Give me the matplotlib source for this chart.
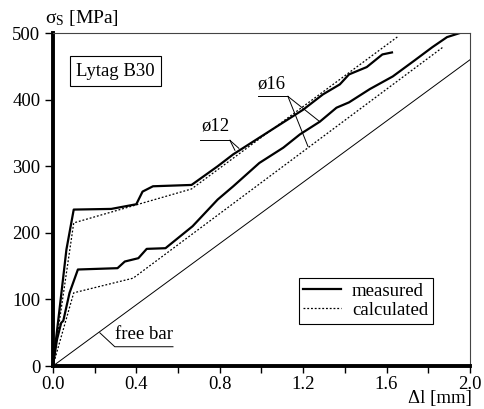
import numpy as np
import matplotlib
matplotlib.use("Agg")
import matplotlib.pyplot as plt
from matplotlib.ticker import MultipleLocator

plt.rcParams['font.family'] = ['Liberation Serif', 'DejaVu Serif']
plt.rcParams['mathtext.fontset'] = 'custom'
plt.rcParams['mathtext.rm'] = 'Liberation Serif'
plt.rcParams['mathtext.it'] = 'Liberation Serif:italic'

# measured / calculated curves (Δl in mm, σs in MPa)
d12_meas_x = [0.0, 0.03, 0.065, 0.10, 0.28, 0.40, 0.43, 0.48, 0.665, 0.79, 0.865, 0.99,
              1.105, 1.20, 1.295, 1.376, 1.42, 1.505, 1.58, 1.626]
d12_meas_y = [0, 80, 175, 235, 236, 243, 262, 270, 272, 300, 318, 343,
              366, 385, 408, 423, 438, 449, 468, 471]
d12_calc_x = [0.0, 0.10, 0.665, 1.655]
d12_calc_y = [0, 215, 266, 495]

d16_meas_x = [0.0, 0.02, 0.04, 0.05, 0.08, 0.12, 0.31, 0.345, 0.41, 0.45, 0.54, 0.67, 0.79,
              0.865, 0.99, 1.105, 1.185, 1.28, 1.36, 1.42, 1.52, 1.63, 1.73, 1.82, 1.89, 1.98]
d16_meas_y = [0, 40, 65, 68, 110, 145, 147, 157, 162, 176, 177, 210, 250,
              270, 305, 328, 348, 367, 388, 396, 416, 435, 458, 479, 494, 503]
d16_calc_x = [0.0, 0.10, 0.385, 1.875]
d16_calc_y = [0, 110, 132, 480]

free_x = [0.0, 2.0]
free_y = [0, 460]

fig = plt.figure(figsize=(4.85, 4.09), dpi=100)
ax = fig.add_axes([0.109, 0.105, 0.860, 0.814])

ax.plot(d12_meas_x, d12_meas_y, color='black', lw=1.6, label='measured')
ax.plot(d16_meas_x, d16_meas_y, color='black', lw=1.6)
ax.plot(d12_calc_x, d12_calc_y, color='black', lw=0.9, ls=(0, (1.5, 1.5)), label='calculated')
ax.plot(d16_calc_x, d16_calc_y, color='black', lw=0.9, ls=(0, (1.5, 1.5)))
ax.plot(free_x, free_y, color='black', lw=0.7)

ax.set_xlim(0, 2.0)
ax.set_ylim(0, 500)
ax.xaxis.set_major_locator(MultipleLocator(0.4))
ax.xaxis.set_minor_locator(MultipleLocator(0.2))
ax.yaxis.set_major_locator(MultipleLocator(100))
ax.xaxis.set_major_formatter(plt.FormatStrFormatter('%.1f'))
ax.tick_params(axis='both', which='both', direction='out', labelsize=13.5, width=1.0)
ax.tick_params(axis='x', which='major', length=5, pad=2)
ax.tick_params(axis='x', which='minor', length=5)
ax.tick_params(axis='y', length=6, pad=3)

for side in ['left', 'bottom']:
    ax.spines[side].set_linewidth(2.8)
for side in ['top', 'right']:
    ax.spines[side].set_linewidth(0.8)
    ax.spines[side].set_color('#444444')

# labels
fig.text(45 / 485, 1 - 18 / 409, r'$\mathrm{σ}_\mathrm{S}$ [MPa]', fontsize=14,
         ha='left', va='center')
fig.text(440 / 485, 1 - 399 / 409, 'Δl [mm]', fontsize=13.5, ha='center', va='center')

ax.text(0.30, 443, 'Lytag B30', fontsize=13.5, ha='center', va='center',
        bbox=dict(boxstyle='square,pad=0.35', fc='white', ec='black', lw=0.8))

# ø12 annotation
ax.text(0.777, 360, 'ø12', fontsize=13.5, ha='center', va='center')
ax.plot([0.705, 0.849], [339, 339], color='black', lw=0.7)
ax.plot([0.849, 0.873], [339, 324], color='black', lw=0.7)
ax.plot([0.849, 0.892], [339, 327], color='black', lw=0.7)

# ø16 annotation
ax.text(1.046, 423, 'ø16', fontsize=13.5, ha='center', va='center')
ax.plot([0.983, 1.127], [405, 405], color='black', lw=0.7)
ax.plot([1.127, 1.28], [405, 367], color='black', lw=0.7)
ax.plot([1.127, 1.223], [405, 330], color='black', lw=0.7)

# free bar annotation
ax.text(0.436, 47, 'free bar', fontsize=13.5, ha='center', va='center')
ax.plot([0.225, 0.297, 0.576], [50, 29, 29], color='black', lw=0.7)

leg = ax.legend(loc='upper right', bbox_to_anchor=(0.911, 0.264), fontsize=13.5,
                handlelength=2.0, borderpad=0.25, labelspacing=0.1, borderaxespad=0,
                handletextpad=0.6, fancybox=False, framealpha=1)
leg.get_frame().set_edgecolor('black')
leg.get_frame().set_linewidth(0.8)

fig.savefig('out.png', dpi=100)
